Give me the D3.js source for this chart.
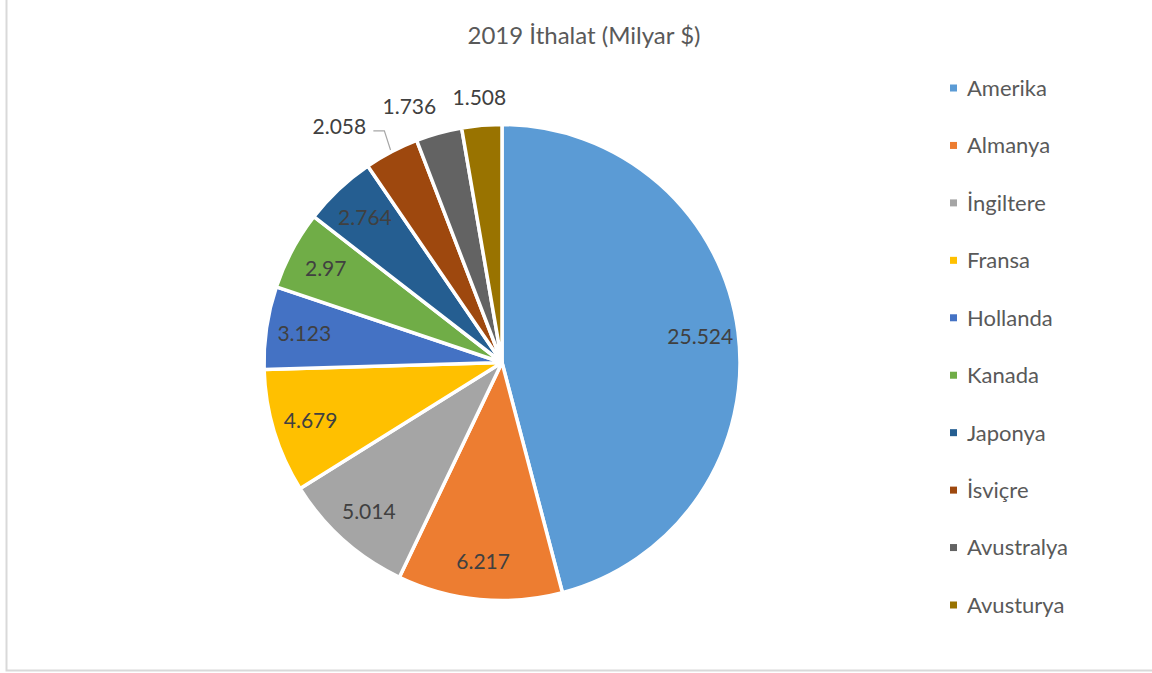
<!DOCTYPE html>
<html>
<head>
<meta charset="utf-8">
<script src="https://cdn.jsdelivr.net/npm/d3@7"></script>
<style>
  body { margin: 0; background: #fff; }
  text { font-family: Lato, "Open Sans", sans-serif; }
</style>
</head>
<body>
<script>
// 2019 import pie chart
var width = 1152;
var height = 673;

// Data
var countries = ["Amerika", "Almanya", "İngiltere", "Fransa", "Hollanda",
  "Kanada", "Japonya", "İsviçre", "Avustralya", "Avusturya"];
var values = [25.524, 6.217, 5.014, 4.679, 3.123, 2.97, 2.764, 2.058, 1.736, 1.508];
var colors = ["#5B9BD5", "#ED7D31", "#A5A5A5", "#FFC000", "#4472C4",
  "#70AD47", "#255E91", "#9E480E", "#636363", "#997300"];
var title = "2019 İthalat (Milyar $)";

var cx = 502, cy = 362.5, radius = 238;

var svg = d3.select("body")
  .append("svg")
  .attr("width", width)
  .attr("height", height);

// chart frame (only left and bottom edges fall inside the picture)
svg.append("rect")
  .attr("x", 6.5)
  .attr("y", -20)
  .attr("width", width + 40)
  .attr("height", 690.5)
  .attr("fill", "#fff")
  .attr("stroke", "#d9d9d9")
  .attr("stroke-width", 2);

svg.append("text")
  .attr("x", 584)
  .attr("y", 44)
  .attr("text-anchor", "middle")
  .attr("fill", "#595959")
  .style("font-size", "24px")
  .text(title);

var color = d3.scaleOrdinal().domain(countries).range(colors);

var pie = d3.pie().sort(null).value(function(d) { return d; });
var arcs = pie(values);
var total = d3.sum(values);

var arc = d3.arc().innerRadius(0).outerRadius(radius);
var labelArc = d3.arc().innerRadius(radius * 0.84).outerRadius(radius * 0.84);

var g = svg.append("g").attr("transform", "translate(" + cx + "," + cy + ")");

g.selectAll("path")
  .data(arcs)
  .enter()
  .append("path")
    .attr("d", arc)
    .attr("fill", function(d, i) { return color(countries[i]); })
    .attr("stroke", "#fff")
    .attr("stroke-width", 3.5)
    .attr("stroke-linejoin", "round");

function fmt(v) { return String(v); }

// inside labels
var inside = arcs.filter(function(d) { return d.value / total >= 0.04; });
g.selectAll("text.inside")
  .data(inside)
  .enter()
  .append("text")
    .attr("class", "inside")
    .attr("transform", function(d) { return "translate(" + labelArc.centroid(d) + ")"; })
    .attr("text-anchor", "middle")
    .attr("dy", "0.36em")
    .attr("fill", "#404040")
    .style("font-size", "21px")
    .text(function(d) { return fmt(d.value); });

// outside labels, pushed left so they don't overlap
var outside = arcs.filter(function(d) { return d.value / total < 0.04; });
var outR = radius + 28;
var prevX = Infinity;
var placed = [];
for (var k = outside.length - 1; k >= 0; k--) {
  var d = outside[k];
  var mid = (d.startAngle + d.endAngle) / 2;
  var x = Math.sin(mid) * outR;
  var y = -Math.cos(mid) * outR;
  var nx = Math.min(x, prevX - 70);
  placed.push({ d: d, x: nx, y: y, mid: mid, shifted: x - nx });
  prevX = nx;
}
placed.forEach(function(p) {
  g.append("text")
    .attr("x", p.x)
    .attr("y", p.y)
    .attr("text-anchor", "middle")
    .attr("dy", "0.36em")
    .attr("fill", "#404040")
    .style("font-size", "21px")
    .text(fmt(p.d.value));
  if (p.shifted > 30) {
    var ex = Math.sin(p.mid) * (radius + 2);
    var ey = -Math.cos(p.mid) * (radius + 2);
    var sx = p.x + 34;
    g.append("path")
      .attr("d", "M" + sx + "," + (p.y + 4) + "H" + (sx + 11) + "L" + ex + "," + ey)
      .attr("fill", "none")
      .attr("stroke", "#a6a6a6")
      .attr("stroke-width", 1.2);
  }
});

// legend
var ly = d3.scalePoint().domain(countries).range([88, 605]);
var legend = svg.append("g");
var items = legend.selectAll("g")
  .data(countries)
  .enter()
  .append("g")
    .attr("transform", function(d) { return "translate(950," + ly(d) + ")"; });
items.append("rect")
  .attr("x", 0)
  .attr("y", -3.5)
  .attr("width", 7)
  .attr("height", 7)
  .attr("fill", function(d) { return color(d); });
items.append("text")
  .attr("x", 17)
  .attr("dy", "0.36em")
  .attr("fill", "#595959")
  .style("font-size", "22px")
  .text(function(d) { return d; });
</script>
</body>
</html>
